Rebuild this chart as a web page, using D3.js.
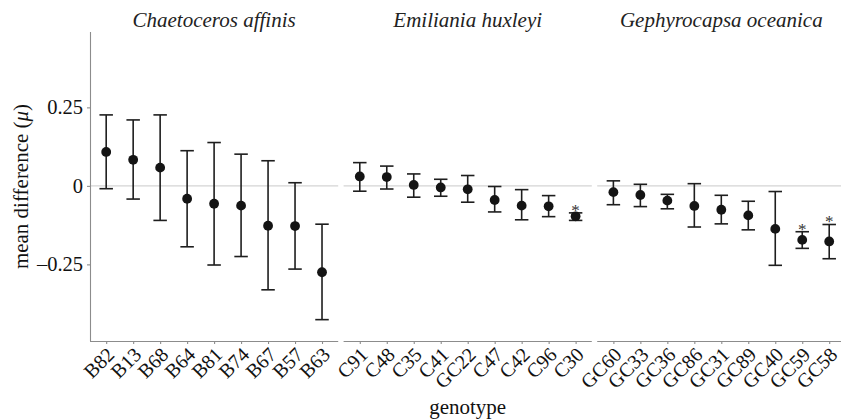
<!DOCTYPE html>
<html>
<head>
<meta charset="utf-8">
<script src="https://cdn.jsdelivr.net/npm/d3@7"></script>
<style>
  html, body { margin: 0; padding: 0; background: #fff; }
  svg { display: block; }
  text { font-family: "Liberation Serif", "DejaVu Serif", serif; }
</style>
</head>
<body>
<svg id="chart" width="841" height="420"></svg>
<script>
// ---- data ----
const species = ["Chaetoceros affinis", "Emiliania huxleyi", "Gephyrocapsa oceanica"];

const genotypesCA = ["B82", "B13", "B68", "B64", "B81", "B74", "B67", "B57", "B63"];
const meanCA  = [0.108, 0.083, 0.058, -0.041, -0.057, -0.063, -0.127, -0.128, -0.275];
const lowerCA = [-0.009, -0.042, -0.110, -0.194, -0.252, -0.225, -0.331, -0.265, -0.426];
const upperCA = [0.226, 0.210, 0.226, 0.112, 0.138, 0.101, 0.080, 0.010, -0.122];
const sigCA   = [false, false, false, false, false, false, false, false, false];

const genotypesEH = ["C91", "C48", "C35", "C41", "GC22", "C47", "C42", "C96", "C30"];
const meanEH  = [0.030, 0.028, 0.003, -0.005, -0.011, -0.045, -0.063, -0.065, -0.097];
const lowerEH = [-0.017, -0.010, -0.036, -0.033, -0.052, -0.083, -0.108, -0.098, -0.110];
const upperEH = [0.074, 0.063, 0.038, 0.021, 0.033, -0.002, -0.012, -0.031, -0.086];
const sigEH   = [false, false, false, false, false, false, false, false, true];

const genotypesGO = ["GC60", "GC33", "GC36", "GC86", "GC31", "GC89", "GC40", "GC59", "GC58"];
const meanGO  = [-0.020, -0.029, -0.047, -0.064, -0.076, -0.094, -0.137, -0.172, -0.177];
const lowerGO = [-0.060, -0.066, -0.073, -0.131, -0.121, -0.140, -0.253, -0.199, -0.232];
const upperGO = [0.016, 0.005, -0.027, 0.007, -0.030, -0.049, -0.018, -0.146, -0.123];
const sigGO   = [false, false, false, false, false, false, false, true, true];

const yTicks = [0.25, 0, -0.25];
const yTickLabels = ["0.25", "0", "\u20130.25"];
const yDomain = [-0.494, 0.49];

const panels = [
  { title: species[0], cats: genotypesCA, mean: meanCA, lo: lowerCA, hi: upperCA, sig: sigCA },
  { title: species[1], cats: genotypesEH, mean: meanEH, lo: lowerEH, hi: upperEH, sig: sigEH },
  { title: species[2], cats: genotypesGO, mean: meanGO, lo: lowerGO, hi: upperGO, sig: sigGO }
];

// ---- layout ----
const plotTop = 32, plotBottom = 341;
const plotLeft = 90;
const panelW = 248.2, gap = 5.4;
const tickFont = 20, titleFont = 21;

const svg = d3.select("#chart");
const y = d3.scaleLinear().domain(yDomain).range([plotBottom, plotTop]);

const axisGrey = "#8c8c8c";
const ink = "#1e1e1e";

panels.forEach((p, i) => {
  const x0 = plotLeft + i * (panelW + gap);
  const x = d3.scalePoint().domain(p.cats).range([x0, x0 + panelW]).padding(0.6);
  const step = x.step();
  const g = svg.append("g");

  // zero reference line
  g.append("line")
    .attr("x1", x0).attr("x2", x0 + panelW)
    .attr("y1", y(0)).attr("y2", y(0))
    .attr("stroke", "#d4d4d4").attr("stroke-width", 1.1);

  // x axis
  const xAxis = d3.axisBottom(x).tickSize(3).tickSizeOuter(0).tickPadding(2);
  const ax = g.append("g").attr("transform", `translate(0,${plotBottom})`).call(xAxis);
  ax.select(".domain").attr("stroke", axisGrey).attr("stroke-width", 1.1)
    .attr("d", `M${x0},0.5H${x0 + panelW}`);
  ax.selectAll(".tick line").attr("stroke", axisGrey).attr("stroke-width", 1.1);
  ax.selectAll(".tick text")
    .attr("font-size", tickFont)
    .attr("fill", "#111")
    .attr("text-anchor", "end")
    .attr("x", 0).attr("y", 0).attr("dy", "0.7em")
    .attr("transform", "translate(-1,5) rotate(-45)");

  // title
  svg.append("text")
    .attr("x", x0 + panelW / 2).attr("y", 27)
    .attr("text-anchor", "middle")
    .attr("font-size", titleFont).attr("font-style", "italic")
    .attr("fill", "#222")
    .text(p.title);

  const hw = step * 0.25;
  const rows = p.cats.map((c, j) => ({ c, m: p.mean[j], lo: p.lo[j], hi: p.hi[j], s: p.sig[j] }));

  // error bars
  const eb = g.selectAll(".eb").data(rows).enter().append("g").attr("class", "eb");
  eb.append("line")
    .attr("x1", d => x(d.c)).attr("x2", d => x(d.c))
    .attr("y1", d => y(d.lo)).attr("y2", d => y(d.hi))
    .attr("stroke", ink).attr("stroke-width", 1.6);
  eb.append("line")
    .attr("x1", d => x(d.c) - hw).attr("x2", d => x(d.c) + hw)
    .attr("y1", d => y(d.hi)).attr("y2", d => y(d.hi))
    .attr("stroke", ink).attr("stroke-width", 1.6);
  eb.append("line")
    .attr("x1", d => x(d.c) - hw).attr("x2", d => x(d.c) + hw)
    .attr("y1", d => y(d.lo)).attr("y2", d => y(d.lo))
    .attr("stroke", ink).attr("stroke-width", 1.6);

  // points
  g.selectAll(".pt").data(rows).enter().append("circle")
    .attr("cx", d => x(d.c)).attr("cy", d => y(d.m))
    .attr("r", 4.9).attr("fill", "#141414");

  // significance asterisks
  g.selectAll(".sig").data(rows.filter(d => d.s)).enter().append("text")
    .attr("x", d => x(d.c)).attr("y", d => y(d.hi) + 3)
    .attr("text-anchor", "middle")
    .attr("font-size", 17).attr("fill", "#333")
    .text("*");
});

// y axis
const yAxis = d3.axisLeft(y).tickValues(yTicks).tickSize(3).tickPadding(4)
  .tickFormat((d, i) => yTickLabels[i]).tickSizeOuter(0);
const ay = svg.append("g").attr("transform", `translate(${plotLeft},0)`).call(yAxis);
ay.select(".domain").attr("stroke", axisGrey).attr("stroke-width", 1.1)
  .attr("d", `M0.5,${plotTop}V${plotBottom}`);
ay.selectAll(".tick line").attr("stroke", axisGrey).attr("stroke-width", 1.1);
ay.selectAll(".tick text").attr("font-size", 20.5).attr("fill", "#111");

// axis titles
svg.append("text")
  .attr("x", plotLeft + (3 * panelW + 2 * gap) / 2).attr("y", 414)
  .attr("text-anchor", "middle").attr("font-size", titleFont).attr("fill", "#111")
  .text("genotype");

const yt = svg.append("text")
  .attr("transform", `translate(28,${(plotTop + plotBottom) / 2}) rotate(-90)`)
  .attr("text-anchor", "middle").attr("font-size", titleFont).attr("fill", "#111");
yt.append("tspan").text("mean difference (");
yt.append("tspan").attr("font-style", "italic").text("\u03bc");
yt.append("tspan").text(")");
</script>
</body>
</html>
